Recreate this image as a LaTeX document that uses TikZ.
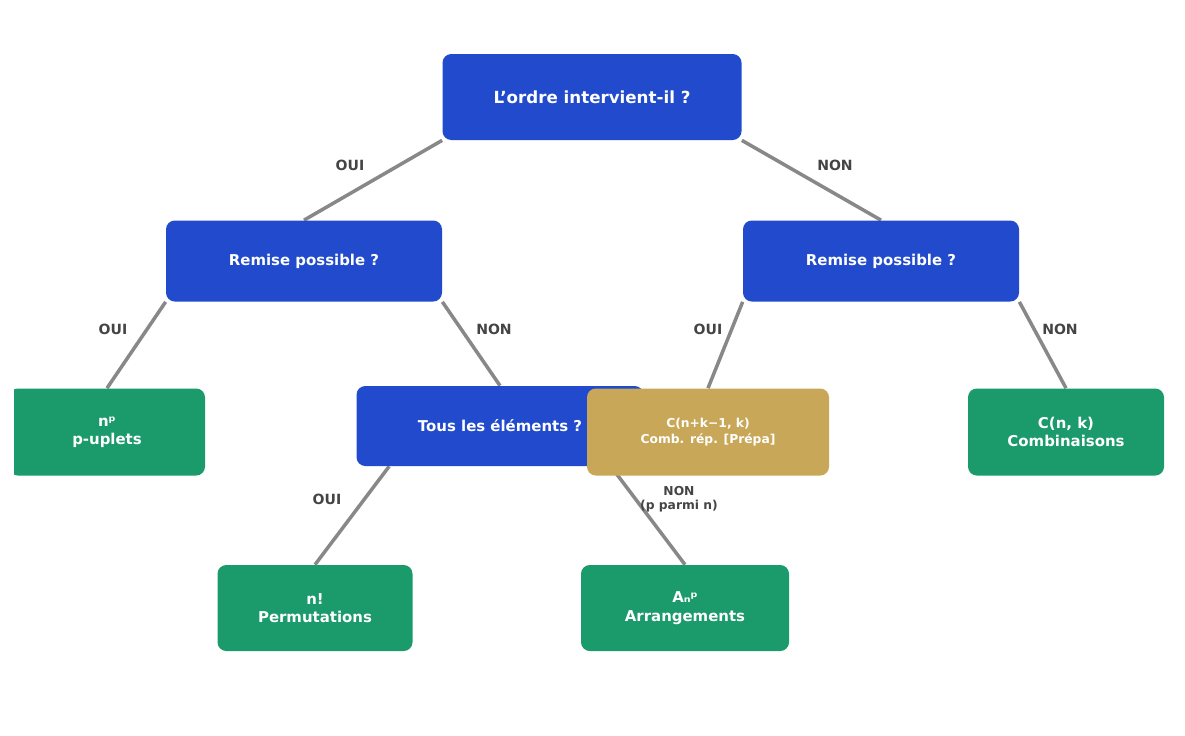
\documentclass[tikz,border=0pt]{standalone}
\usepackage{fontspec}
\setmainfont{DejaVu Sans}
\usetikzlibrary{positioning, backgrounds}
\definecolor{qblue}{HTML}{214BCC}
\definecolor{qgreen}{HTML}{1B9A6B}
\definecolor{qgold}{HTML}{C8A858}
\definecolor{qedge}{HTML}{888888}
\definecolor{qlabel}{HTML}{444444}
\tikzset{
    box/.style={rounded corners=5pt, text=white, align=center, inner sep=0pt,
        font=\bfseries\fontsize{8.5}{10.5}\selectfont},
    question/.style={box, fill=qblue},
    answer/.style={box, fill=qgreen},
    extra/.style={box, fill=qgold, font=\bfseries\fontsize{7}{9}\selectfont},
    branch/.style={qedge, line width=2pt},
    tag/.style={text=qlabel, align=center, font=\bfseries\fontsize{8}{9}\selectfont}
}
\begin{document}
\begin{tikzpicture}[x=0.02cm, y=-0.02cm]
    \useasboundingbox (0,0) rectangle (1185,735);

    % questions
    \node[question, minimum width=299*0.02cm, minimum height=86*0.02cm,
        font=\bfseries\fontsize{9.5}{11}\selectfont] (ordre) at (592,97) {L'ordre intervient-il ?};
    \node[question, minimum width=276*0.02cm, minimum height=81*0.02cm] (remA) at (304,261) {Remise possible ?};
    \node[question, minimum width=276*0.02cm, minimum height=81*0.02cm] (remB) at (881,261) {Remise possible ?};
    \node[question, minimum width=287*0.02cm, minimum height=80*0.02cm] (tous) at (500,426) {Tous les éléments ?};

    % answers
    \begin{scope}
        \clip (14,380) rectangle (220,480);
        \node[answer, minimum width=196*0.02cm, minimum height=87*0.02cm] (uplets) at (107,432) {nᵖ\\p-uplets};
    \end{scope}
    \node[extra, minimum width=242*0.02cm, minimum height=87*0.02cm] (combrep) at (708,432) {C(n+k−1, k)\\Comb. rép. [Prépa]};
    \node[answer, minimum width=196*0.02cm, minimum height=87*0.02cm] (comb) at (1066,432) {C(n, k)\\Combinaisons};
    \node[answer, minimum width=195*0.02cm, minimum height=86*0.02cm] (perm) at (315,608) {n!\\Permutations};
    \node[answer, minimum width=208*0.02cm, minimum height=86*0.02cm] (arr) at (685,608) {Aₙᵖ\\Arrangements};

    % branches
    \begin{scope}[on background layer]
        \draw[branch] (ordre.south west) -- (remA.north);
        \draw[branch] (ordre.south east) -- (remB.north);
        \draw[branch] (remA.south west) -- (uplets.north);
        \draw[branch] (remA.south east) -- (tous.north);
        \draw[branch] (remB.south west) -- (combrep.north);
        \draw[branch] (remB.south east) -- (comb.north);
        \draw[branch] ([xshift=33*0.02cm]tous.south west) -- (perm.north);
        \draw[branch] ([xshift=-33*0.02cm]tous.south east) -- (arr.north);
    \end{scope}

    % labels
    \node[tag] (l1) at (350,165) {OUI};
    \node[tag] (l2) at (835,165) {NON};
    \node[tag] (l3) at (113,329) {OUI};
    \node[tag] (l4) at (494,329) {NON};
    \node[tag] (l5) at (708,329) {OUI};
    \node[tag] (l6) at (1060,329) {NON};
    \node[tag] (l7) at (327,499) {OUI};
    \node[tag, font=\bfseries\fontsize{7}{8}\selectfont] (l8) at (679,499) {NON\\(p parmi n)};
\end{tikzpicture}
\end{document}
